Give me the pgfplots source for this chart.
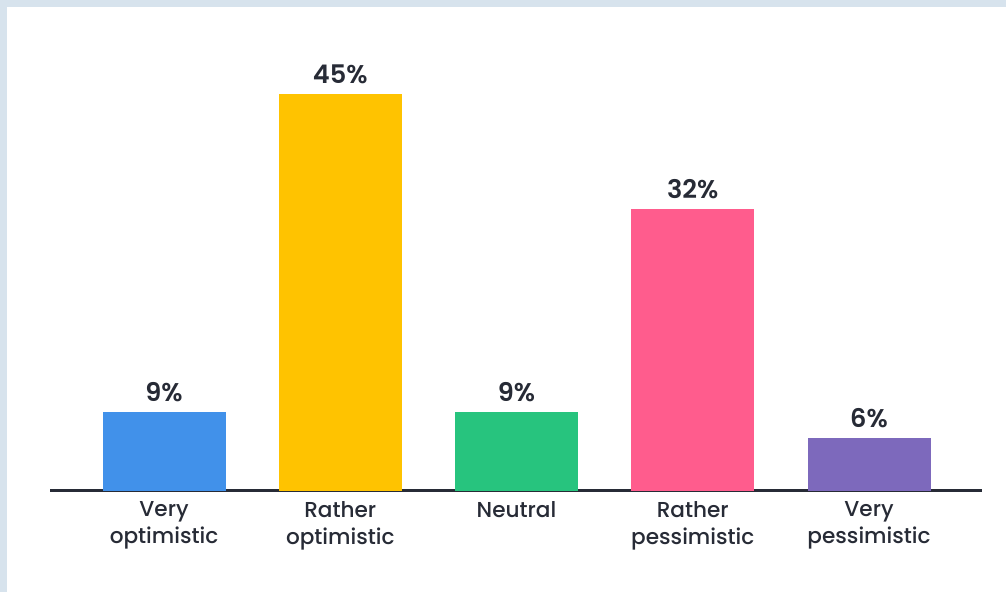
\documentclass[border=0pt]{standalone}
\usepackage{pgfplots}
\pgfplotsset{compat=1.18}
\usepackage{fontspec}
\setmainfont{Poppins}
\newfontfamily\poppinsmed{Poppins Medium}
\newfontfamily\poppinssemi{Poppins SemiBold}

\definecolor{frameblue}{HTML}{D7E3ED}
\definecolor{ink}{HTML}{272B36}
\definecolor{cblue}{HTML}{4191EA}
\definecolor{cyellow}{HTML}{FFC300}
\definecolor{cgreen}{HTML}{27C47E}
\definecolor{cpink}{HTML}{FF5C8D}
\definecolor{cpurple}{HTML}{7D69BC}

\begin{document}
\begin{tikzpicture}
% page: 1006 x 592 px, 1 px = 0.5pt, axis origin at (50px, 491px)
\fill[frameblue] (-25pt,-50.5pt) rectangle (478pt,245.5pt);
\fill[white] (-21.5pt,-50.5pt) rectangle (478pt,242pt);
\begin{axis}[
  at={(0,0)}, anchor=south west,
  scale only axis,
  width=466pt, height=220.5pt,
  xmin=-0.647, xmax=4.641,
  ymin=0, ymax=50,
  axis x line=bottom,
  axis y line=none,
  x axis line style={draw=ink, line width=1.5pt, -},
  xtick={0,1,2,3,4},
  xticklabels={{Very\\optimistic},{Rather\\optimistic},{Neutral},{Rather\\pessimistic},{Very\\pessimistic}},
  xtick style={draw=none},
  major tick length=0pt,
  xticklabel style={align=center, font=\poppinsmed\fontsize{10.8}{13.5}\selectfont, text=ink, yshift=-1.5pt},
  ybar, bar width=61.5pt, bar shift=0pt,
  every axis plot/.append style={draw=none},
  /pgf/number format/assume math mode=true,
  nodes near coords={\pgfmathprintnumber{\pgfplotspointmeta}\%},
  every node near coord/.append style={font=\poppinssemi\fontsize{12.8}{15}\selectfont, text=ink, anchor=south, yshift=1.5pt},
  clip=false,
]
\addplot[fill=cblue] coordinates {(0,9)};
\addplot[fill=cyellow] coordinates {(1,45)};
\addplot[fill=cgreen] coordinates {(2,9)};
\addplot[fill=cpink] coordinates {(3,32)};
\addplot[fill=cpurple] coordinates {(4,6)};
\end{axis}
\path[use as bounding box] (-25pt,-50.5pt) rectangle (478pt,245.5pt);
\end{tikzpicture}
\end{document}
